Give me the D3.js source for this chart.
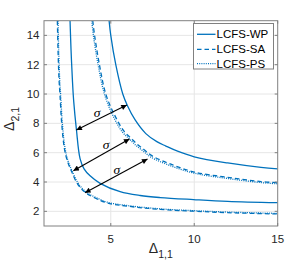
<!DOCTYPE html>
<html>
<head>
<meta charset="utf-8">
<script src="https://cdn.jsdelivr.net/npm/d3@7"></script>
<style>
body { margin: 0; background: #fff; }
text { font-family: "Liberation Sans", Arial, sans-serif; fill: #262626; }
.grid line { stroke: #e6e6e6; stroke-width: 1; }
.curve { fill: none; stroke: #0072bd; stroke-width: 1.3; }
</style>
</head>
<body>
<script>
// curves, [Delta11, Delta21]
var wpInner = [[2.56,15],[2.62,13],[2.7,11],[2.78,9.5],[2.94,7.6],[3.16,5.6],[3.4,4.9],[3.76,4.42],[4.36,3.91],[5.56,3.34],[6.76,3.08],[7.96,2.94],[9.96,2.8],[12,2.68],[15,2.59]];
var wpOuter = [[4.9,15],[5.0,14],[5.3,12],[5.72,10],[6.0,9.2],[6.46,8.23],[7.1,7.3],[7.76,6.75],[8.3,6.45],[9.0,6.1],[10,5.72],[12,5.3],[14,5.0],[15,4.9]];
var saInner = [[1.8,15],[1.84,13],[1.9,11],[1.96,9.9],[2.06,8],[2.22,6.3],[2.41,5.4],[2.66,4.7],[2.96,3.96],[3.26,3.51],[3.56,3.21],[4.06,2.91],[4.76,2.58],[5.96,2.36],[7.96,2.13],[9.96,2.01],[12,1.91],[15,1.82]];
var saOuter = [[3.92,15],[4.03,14],[4.32,12],[4.7,10],[5.18,8.68],[5.78,7.48],[6.2,7.0],[6.58,6.58],[7.0,6.2],[7.48,5.78],[8.68,5.18],[10,4.68],[12,4.32],[14,4.03],[15,3.95]];
var psInner = [[1.84,15],[1.88,13],[1.94,11],[2.0,9.9],[2.1,8],[2.26,6.3],[2.45,5.4],[2.7,4.7],[3.0,4.0],[3.3,3.55],[3.6,3.25],[4.1,2.95],[4.8,2.62],[5.96,2.4],[7.96,2.17],[9.96,2.05],[12,1.95],[15,1.86]];
var psOuter = [[3.86,15],[3.96,14],[4.24,12],[4.62,10],[5.1,8.6],[5.7,7.4],[6.12,6.93],[6.5,6.5],[6.93,6.12],[7.4,5.7],[8.6,5.1],[10,4.6],[12,4.24],[14,3.96],[15,3.88]];

var arrows = [
  {from: [2.94,7.54], to: [5.96,9.25], label: [4.18,8.7]},
  {from: [2.76,4.77], to: [6.12,6.93], label: [4.72,6.47]},
  {from: [3.46,3.27], to: [7.2,5.57], label: [5.36,4.77]}
];

var xTicks = [5, 10, 15];
var yTicks = [2, 4, 6, 8, 10, 12, 14];
var legendNames = ["LCFS-WP", "LCFS-SA", "LCFS-PS"];
var dashes = [null, "4.5,3", "1,1.2"];

var width = 307, height = 271;
var pLeft = 44, pRight = 277.7, pTop = 20.7, pBottom = 226;

var svg = d3.select("body").append("svg")
  .attr("width", width)
  .attr("height", height);

var x = d3.scaleLinear().domain([1, 15]).range([pLeft, pRight]);
var y = d3.scaleLinear().domain([1, 15]).range([pBottom, pTop]);

// grid
var grid = svg.append("g").attr("class", "grid");
grid.selectAll(".gx").data(xTicks.slice(0, 2)).enter().append("line")
  .attr("x1", d => x(d)).attr("x2", d => x(d))
  .attr("y1", pTop).attr("y2", pBottom);
grid.selectAll(".gy").data(yTicks).enter().append("line")
  .attr("x1", pLeft).attr("x2", pRight)
  .attr("y1", d => y(d)).attr("y2", d => y(d));

var defs = svg.append("defs");
defs.append("clipPath").attr("id", "clip").append("rect")
  .attr("x", pLeft).attr("y", pTop)
  .attr("width", pRight - pLeft).attr("height", pBottom - pTop);
defs.append("marker")
  .attr("id", "head")
  .attr("viewBox", "0 0 10 10")
  .attr("refX", 10).attr("refY", 5)
  .attr("markerUnits", "userSpaceOnUse")
  .attr("markerWidth", 7).attr("markerHeight", 5.5)
  .attr("orient", "auto-start-reverse")
  .append("path").attr("d", "M0,0L10,5L0,10z").attr("fill", "#000");

var line = d3.line()
  .x(d => x(d[0])).y(d => y(d[1]))
  .curve(d3.curveCatmullRom.alpha(0.5));

var curves = [
  {data: wpInner, dash: dashes[0]}, {data: wpOuter, dash: dashes[0]},
  {data: saInner, dash: dashes[1]}, {data: saOuter, dash: dashes[1]},
  {data: psInner, dash: dashes[2]}, {data: psOuter, dash: dashes[2]}
];
svg.append("g").attr("clip-path", "url(#clip)")
  .selectAll("path").data(curves).enter().append("path")
  .attr("class", "curve")
  .attr("d", d => line(d.data))
  .attr("stroke-dasharray", d => d.dash);

// arrows with sigma
svg.selectAll(".arrow").data(arrows).enter().append("line")
  .attr("class", "arrow")
  .attr("x1", d => x(d.from[0])).attr("y1", d => y(d.from[1]))
  .attr("x2", d => x(d.to[0])).attr("y2", d => y(d.to[1]))
  .attr("stroke", "#000").attr("stroke-width", 1.1)
  .attr("marker-start", "url(#head)")
  .attr("marker-end", "url(#head)");
svg.selectAll(".sig").data(arrows).enter().append("text")
  .attr("x", d => x(d.label[0])).attr("y", d => y(d.label[1]) + 3.5)
  .attr("text-anchor", "middle")
  .style("font-family", "'Liberation Serif', 'DejaVu Serif', serif")
  .style("font-style", "italic")
  .style("font-size", "13.5px")
  .style("fill", "#000")
  .text("σ");

// box and ticks
svg.append("rect")
  .attr("x", pLeft).attr("y", pTop)
  .attr("width", pRight - pLeft).attr("height", pBottom - pTop)
  .attr("fill", "none").attr("stroke", "#808080").attr("stroke-width", 1);
var ticks = svg.append("g").attr("stroke", "#808080");
xTicks.forEach(function(t) {
  ticks.append("line").attr("x1", x(t)).attr("x2", x(t)).attr("y1", pBottom).attr("y2", pBottom - 3);
  ticks.append("line").attr("x1", x(t)).attr("x2", x(t)).attr("y1", pTop).attr("y2", pTop + 3);
});
yTicks.forEach(function(t) {
  ticks.append("line").attr("x1", pLeft).attr("x2", pLeft + 3).attr("y1", y(t)).attr("y2", y(t));
  ticks.append("line").attr("x1", pRight).attr("x2", pRight - 3).attr("y1", y(t)).attr("y2", y(t));
});

svg.selectAll(".xl").data(xTicks).enter().append("text")
  .attr("x", d => x(d)).attr("y", 243)
  .attr("text-anchor", "middle").style("font-size", "11.5px")
  .text(d => d);
svg.selectAll(".yl").data(yTicks).enter().append("text")
  .attr("x", 39.5).attr("y", d => y(d) + 4)
  .attr("text-anchor", "end").style("font-size", "11.5px")
  .text(d => d);

// axis labels
var xl = svg.append("text")
  .attr("x", x(8)).attr("y", 253)
  .attr("text-anchor", "middle").style("font-size", "14px");
xl.append("tspan").text("Δ");
xl.append("tspan").attr("dy", 5).style("font-size", "10.5px").text("1,1");

var yl = svg.append("text")
  .attr("transform", "translate(14," + y(8.3) + ") rotate(-90)")
  .attr("text-anchor", "middle").style("font-size", "14px");
yl.append("tspan").text("Δ");
yl.append("tspan").attr("dy", 5).style("font-size", "10.5px").text("2,1");

// legend
var lg = svg.append("g");
lg.append("rect")
  .attr("x", 193.5).attr("y", 23.5).attr("width", 80).attr("height", 45.5)
  .attr("fill", "#fff").attr("stroke", "#808080").attr("stroke-width", 1);
var rows = lg.selectAll(".row").data(legendNames).enter().append("g")
  .attr("transform", (d, i) => "translate(0," + [34.3, 49.3, 63.7][i] + ")");
rows.append("line")
  .attr("x1", 197).attr("x2", 215.5)
  .attr("class", "curve")
  .attr("stroke-dasharray", (d, i) => dashes[i]);
rows.append("text")
  .attr("x", 216.5).attr("y", 4)
  .style("font-size", "11.5px").style("fill", "#000")
  .text(d => d);
</script>
</body>
</html>
